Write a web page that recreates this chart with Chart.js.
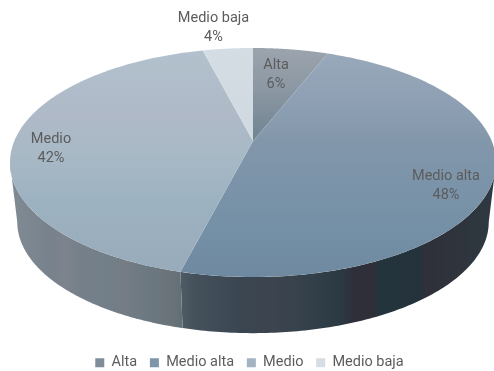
<!DOCTYPE html>
<html>
<head>
<meta charset="utf-8">
<script src="https://cdn.jsdelivr.net/npm/chart.js@4"></script>
<style>
  html, body { margin: 0; background: #fff; }
  #wrap { width: 494px; height: 371px; }
</style>
</head>
<body>
<div id="wrap"><canvas id="myChart"></canvas></div>
<script>
const categories = ['Alta', 'Medio alta', 'Medio', 'Medio baja'];
const shares = [6, 48, 42, 4];

const legendColors = ['#7f8c99', '#7f95aa', '#a3b3c2', '#d5dde5'];

// top face, vertical gradient stops per slice [y, colour]
const topStops = [
  [[50, '#9ba3ad'], [90, '#8b97a3'], [140, '#6f8490']],
  [[52, '#97a9ba'], [100, '#8fa0b4'], [140, '#8397ab'], [190, '#7a93a8'], [230, '#7490a6'], [277, '#6f8aa0']],
  [[50, '#b2c1cd'], [115, '#afb9c7'], [150, '#a9b9c6'], [200, '#9db2c1'], [272, '#98abba']],
  [[48, '#d5dde4'], [140, '#cfd9e0']]
];

// side wall, horizontal gradient stops per slice [x, colour]
const wallStops = [
  null,
  [[183, '#4d5a64'], [195, '#44515b'], [240, '#3a4651'], [275, '#3c444e'], [300, '#36424b'], [340, '#2b3a43'], [355, '#2e2f39'], [375, '#2e2f39'], [378, '#24343c'], [420, '#24333b'], [425, '#2f3039'], [490, '#2e3840']],
  [[10, '#808b94'], [50, '#77828c'], [65, '#7d838d'], [80, '#75808a'], [110, '#727e88'], [125, '#757c84'], [150, '#6b7880'], [170, '#6b7379'], [183, '#616f76']],
  null
];

// label anchors, outside of the data
const labelPos = [[276, 65.5], [446, 176], [51, 139], [213.5, 18]];

// disc projection, a circle seen with some perspective
const CX = 253, APEX_Y = 141, DISC_W = 238.7, DISC_H = 110.5, PERSP = -0.188;
const WALL_DROP = 59.5, WALL_SCALE = 0.97, RIM_CY = 162.5;
const RIM_WIDEST = Math.asin(-PERSP);

function rimPoint(angle, bottom) {
  const x = Math.cos(angle), y = Math.sin(angle);
  const d = 1 + PERSP * y;
  let px = DISC_W * x / d;
  let py = APEX_Y + DISC_H * y / d;
  if (bottom) {
    px = px * WALL_SCALE;
    py = RIM_CY + (py - RIM_CY) * WALL_SCALE + WALL_DROP;
  }
  return [CX + px, py];
}

function traceRim(ctx, from, to, bottom) {
  const steps = 120;
  for (let i = 0; i <= steps; i++) {
    const p = rimPoint(from + (to - from) * i / steps, bottom);
    ctx.lineTo(p[0], p[1]);
  }
}

function makeGradient(ctx, stops, horizontal) {
  const first = stops[0][0], last = stops[stops.length - 1][0];
  const g = horizontal
    ? ctx.createLinearGradient(first, 0, last, 0)
    : ctx.createLinearGradient(0, first, 0, last);
  stops.forEach(function (s) {
    g.addColorStop((s[0] - first) / (last - first), s[1]);
  });
  return g;
}

const discPlugin = {
  id: 'disc',
  beforeDatasetDraw(chart, args) {
    const ctx = chart.ctx;
    const arcs = chart.getDatasetMeta(args.index).data;
    ctx.save();

    // side wall first, only the front of the rim shows
    arcs.forEach(function (arc, i) {
      if (!wallStops[i]) return;
      const from = Math.max(arc.startAngle, RIM_WIDEST);
      const to = Math.min(arc.endAngle, Math.PI - RIM_WIDEST);
      ctx.beginPath();
      traceRim(ctx, from, to, true);
      traceRim(ctx, to, from, false);
      ctx.closePath();
      ctx.fillStyle = makeGradient(ctx, wallStops[i], true);
      ctx.fill();
    });

    // top face
    arcs.forEach(function (arc, i) {
      ctx.beginPath();
      ctx.moveTo(CX, APEX_Y);
      traceRim(ctx, arc.startAngle, arc.endAngle, false);
      ctx.closePath();
      ctx.fillStyle = makeGradient(ctx, topStops[i], false);
      ctx.fill();
    });

    ctx.restore();
    return false;
  },
  afterDatasetsDraw(chart) {
    const ctx = chart.ctx;
    ctx.save();
    ctx.font = '14.5px Roboto';
    ctx.fillStyle = '#5c5c5c';
    ctx.textAlign = 'center';
    ctx.textBaseline = 'middle';
    categories.forEach(function (name, i) {
      ctx.fillText(name, labelPos[i][0], labelPos[i][1]);
      ctx.fillText(shares[i] + '%', labelPos[i][0], labelPos[i][1] + 19);
    });
    ctx.restore();
  }
};

new Chart(document.getElementById('myChart'), {
  type: 'pie',
  data: {
    labels: categories,
    datasets: [{ data: shares, backgroundColor: legendColors, borderWidth: 0 }]
  },
  options: {
    responsive: true,
    maintainAspectRatio: false,
    animation: false,
    layout: { padding: { left: 5, bottom: -9 } },
    plugins: {
      tooltip: { enabled: false },
      legend: {
        position: 'bottom',
        labels: {
          boxWidth: 9,
          boxHeight: 9,
          padding: 12.75,
          color: '#5c5c5c',
          font: { family: 'Roboto', size: 14.5 }
        }
      }
    }
  },
  plugins: [discPlugin]
});
</script>
</body>
</html>
